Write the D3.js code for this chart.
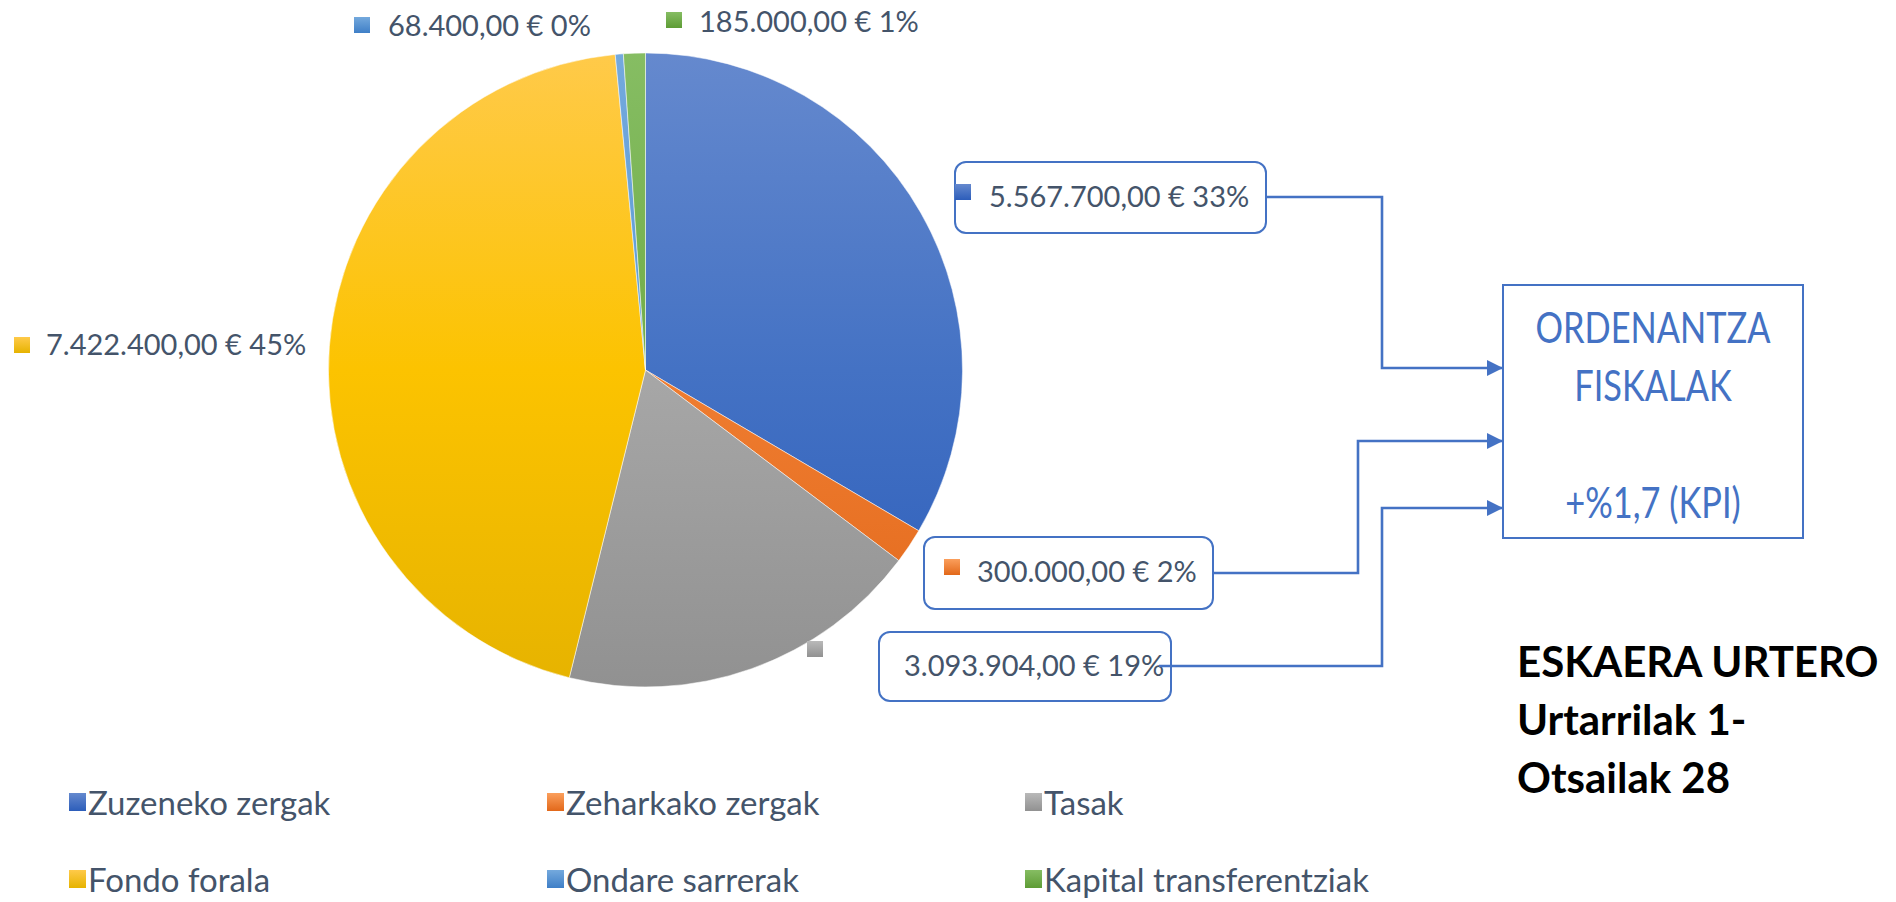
<!DOCTYPE html>
<html>
<head>
<meta charset="utf-8">
<script src="https://cdnjs.cloudflare.com/ajax/libs/d3/7.8.5/d3.min.js"></script>
<style>
  body { margin: 0; background: #fff; }
  text { font-family: Lato, "Open Sans", sans-serif; }
</style>
</head>
<body>
<div id="chart"></div>
<script>
// data
const categories = ["Zuzeneko zergak", "Zeharkako zergak", "Tasak", "Fondo forala", "Ondare sarrerak", "Kapital transferentziak"];
const values = [5567700, 300000, 3093904, 7422400, 68400, 185000];
const boxLines = ["ORDENANTZA", "FISKALAK", "", "+%1,7 (KPI)"];
const noteLines = ["ESKAERA URTERO", "Urtarrilak 1-", "Otsailak 28"];

// styles: [top, mid, bottom] of each gradient
const colors = [
  ["#6589ce", "#4472c4", "#2c5dba"],
  ["#fb9f5c", "#ef7d31", "#e2681a"],
  ["#b9b9b9", "#a7a7a7", "#919191"],
  ["#ffca4a", "#fcc300", "#e6b300"],
  ["#74a9dd", "#5b9bd5", "#3f7fc7"],
  ["#86bd63", "#70ad47", "#5e9c35"]
];
const textColor = "#44546a";
const lineColor = "#4472c4";

const W = 1896, H = 902;
const cx = 645.5, cy = 370, R = 317;

const svg = d3.select("#chart").append("svg")
  .attr("width", W).attr("height", H);
const defs = svg.append("defs");

// pie gradients run over the whole pie (slice frame is centred), swatch gradients over each box
colors.forEach((c, i) => {
  const g = defs.append("linearGradient").attr("id", "pg" + i)
    .attr("gradientUnits", "userSpaceOnUse")
    .attr("x1", 0).attr("x2", 0).attr("y1", -R).attr("y2", R);
  g.append("stop").attr("offset", 0).attr("stop-color", c[0]);
  g.append("stop").attr("offset", 0.5).attr("stop-color", c[1]);
  g.append("stop").attr("offset", 1).attr("stop-color", c[2]);
  const s = defs.append("linearGradient").attr("id", "sg" + i)
    .attr("x1", 0).attr("x2", 0).attr("y1", 0).attr("y2", 1);
  s.append("stop").attr("offset", 0).attr("stop-color", c[0]);
  s.append("stop").attr("offset", 1).attr("stop-color", c[2]);
});

defs.append("marker").attr("id", "arrow")
  .attr("viewBox", "0 0 10 10").attr("refX", 10).attr("refY", 5)
  .attr("markerUnits", "userSpaceOnUse")
  .attr("markerWidth", 16).attr("markerHeight", 16)
  .attr("orient", "auto")
  .append("path").attr("d", "M0,0L10,5L0,10Z").attr("fill", lineColor);

// pie
const pie = d3.pie().sort(null).value(d => d);
const arc = d3.arc().innerRadius(0).outerRadius(R);
const arcs = pie(values);

svg.append("g").attr("transform", `translate(${cx},${cy})`)
  .selectAll("path").data(arcs).enter().append("path")
  .attr("d", arc)
  .attr("fill", (d, i) => `url(#pg${i})`)
  .attr("stroke", "#ffffff").attr("stroke-opacity", 0.5).attr("stroke-width", 1);

// labels
const total = d3.sum(values);
const eu = d3.formatLocale({ decimal: ",", thousands: ".", grouping: [3], currency: ["", " €"] });
const fmt = eu.format(",.2f");
const labelText = (v) => `${fmt(v)} € ${Math.round(v / total * 100)}%`;

// where each label sits; box = callout frame, link = connector to the right box
const labelLayout = [
  { sw: [955, 184], tx: 989, ty: 195, box: [955, 162, 311, 71], link: [[1266, 197], [1382, 197], [1382, 368], [1503, 368]] },
  { sw: [944, 559], tx: 977, ty: 570, box: [924, 537, 289, 72], link: [[1213, 573], [1358, 573], [1358, 441], [1503, 441]] },
  { sw: [807, 641], tx: 904, ty: 664, box: [879, 632, 292, 69], link: [[1159, 666], [1382, 666], [1382, 508], [1503, 508]] },
  { sw: [14, 337], tx: 46, ty: 343 },
  { sw: [354, 17], tx: 388, ty: 24 },
  { sw: [666, 12], tx: 699, ty: 20 }
];

const lab = svg.append("g");
labelLayout.forEach((L, i) => {
  if (L.box) {
    lab.append("rect")
      .attr("x", L.box[0]).attr("y", L.box[1])
      .attr("width", L.box[2]).attr("height", L.box[3])
      .attr("rx", 11).attr("fill", "#fff")
      .attr("stroke", lineColor).attr("stroke-width", 2);
  }
  lab.append("rect").attr("x", L.sw[0]).attr("y", L.sw[1])
    .attr("width", 16).attr("height", 16).attr("fill", `url(#sg${i})`);
  lab.append("text").attr("x", L.tx).attr("y", L.ty)
    .attr("dominant-baseline", "central")
    .attr("font-size", 29).attr("fill", textColor)
    .text(labelText(values[i]));
  if (L.link) {
    lab.append("path")
      .attr("d", d3.line()(L.link))
      .attr("fill", "none").attr("stroke", lineColor).attr("stroke-width", 2.6)
      .attr("marker-end", "url(#arrow)");
  }
});

// target box
const bx = 1503, by = 285, bw = 300, bh = 253;
svg.append("rect").attr("x", bx).attr("y", by).attr("width", bw).attr("height", bh)
  .attr("fill", "#fff").attr("stroke", lineColor).attr("stroke-width", 2);
const boxY = [326, 384, 442, 501];
svg.append("g").selectAll("text").data(boxLines).enter().append("text")
  .attr("x", bx + bw / 2).attr("y", (d, i) => boxY[i])
  .attr("text-anchor", "middle").attr("dominant-baseline", "central")
  .attr("font-size", 43).attr("fill", lineColor)
  .text(d => d)
  .each(function () {
    const n = this.getComputedTextLength();
    if (n > 0) d3.select(this).attr("textLength", n * 0.8).attr("lengthAdjust", "spacingAndGlyphs");
  });

// note
svg.append("g").selectAll("text").data(noteLines).enter().append("text")
  .attr("x", 1517).attr("y", (d, i) => 677 + i * 58)
  .attr("font-size", 42).attr("font-weight", "bold").attr("fill", "#000")
  .text(d => d);

// legend
const leg = svg.append("g").selectAll("g").data(categories).enter().append("g")
  .attr("transform", (d, i) => `translate(${69 + (i % 3) * 478},${802 + Math.floor(i / 3) * 77})`);
leg.append("rect").attr("x", 0).attr("y", -9).attr("width", 17).attr("height", 18)
  .attr("fill", (d, i) => `url(#sg${i})`);
leg.append("text").attr("x", 19).attr("y", 0)
  .attr("dominant-baseline", "central")
  .attr("font-size", 33).attr("fill", textColor)
  .text(d => d);
</script>
</body>
</html>
